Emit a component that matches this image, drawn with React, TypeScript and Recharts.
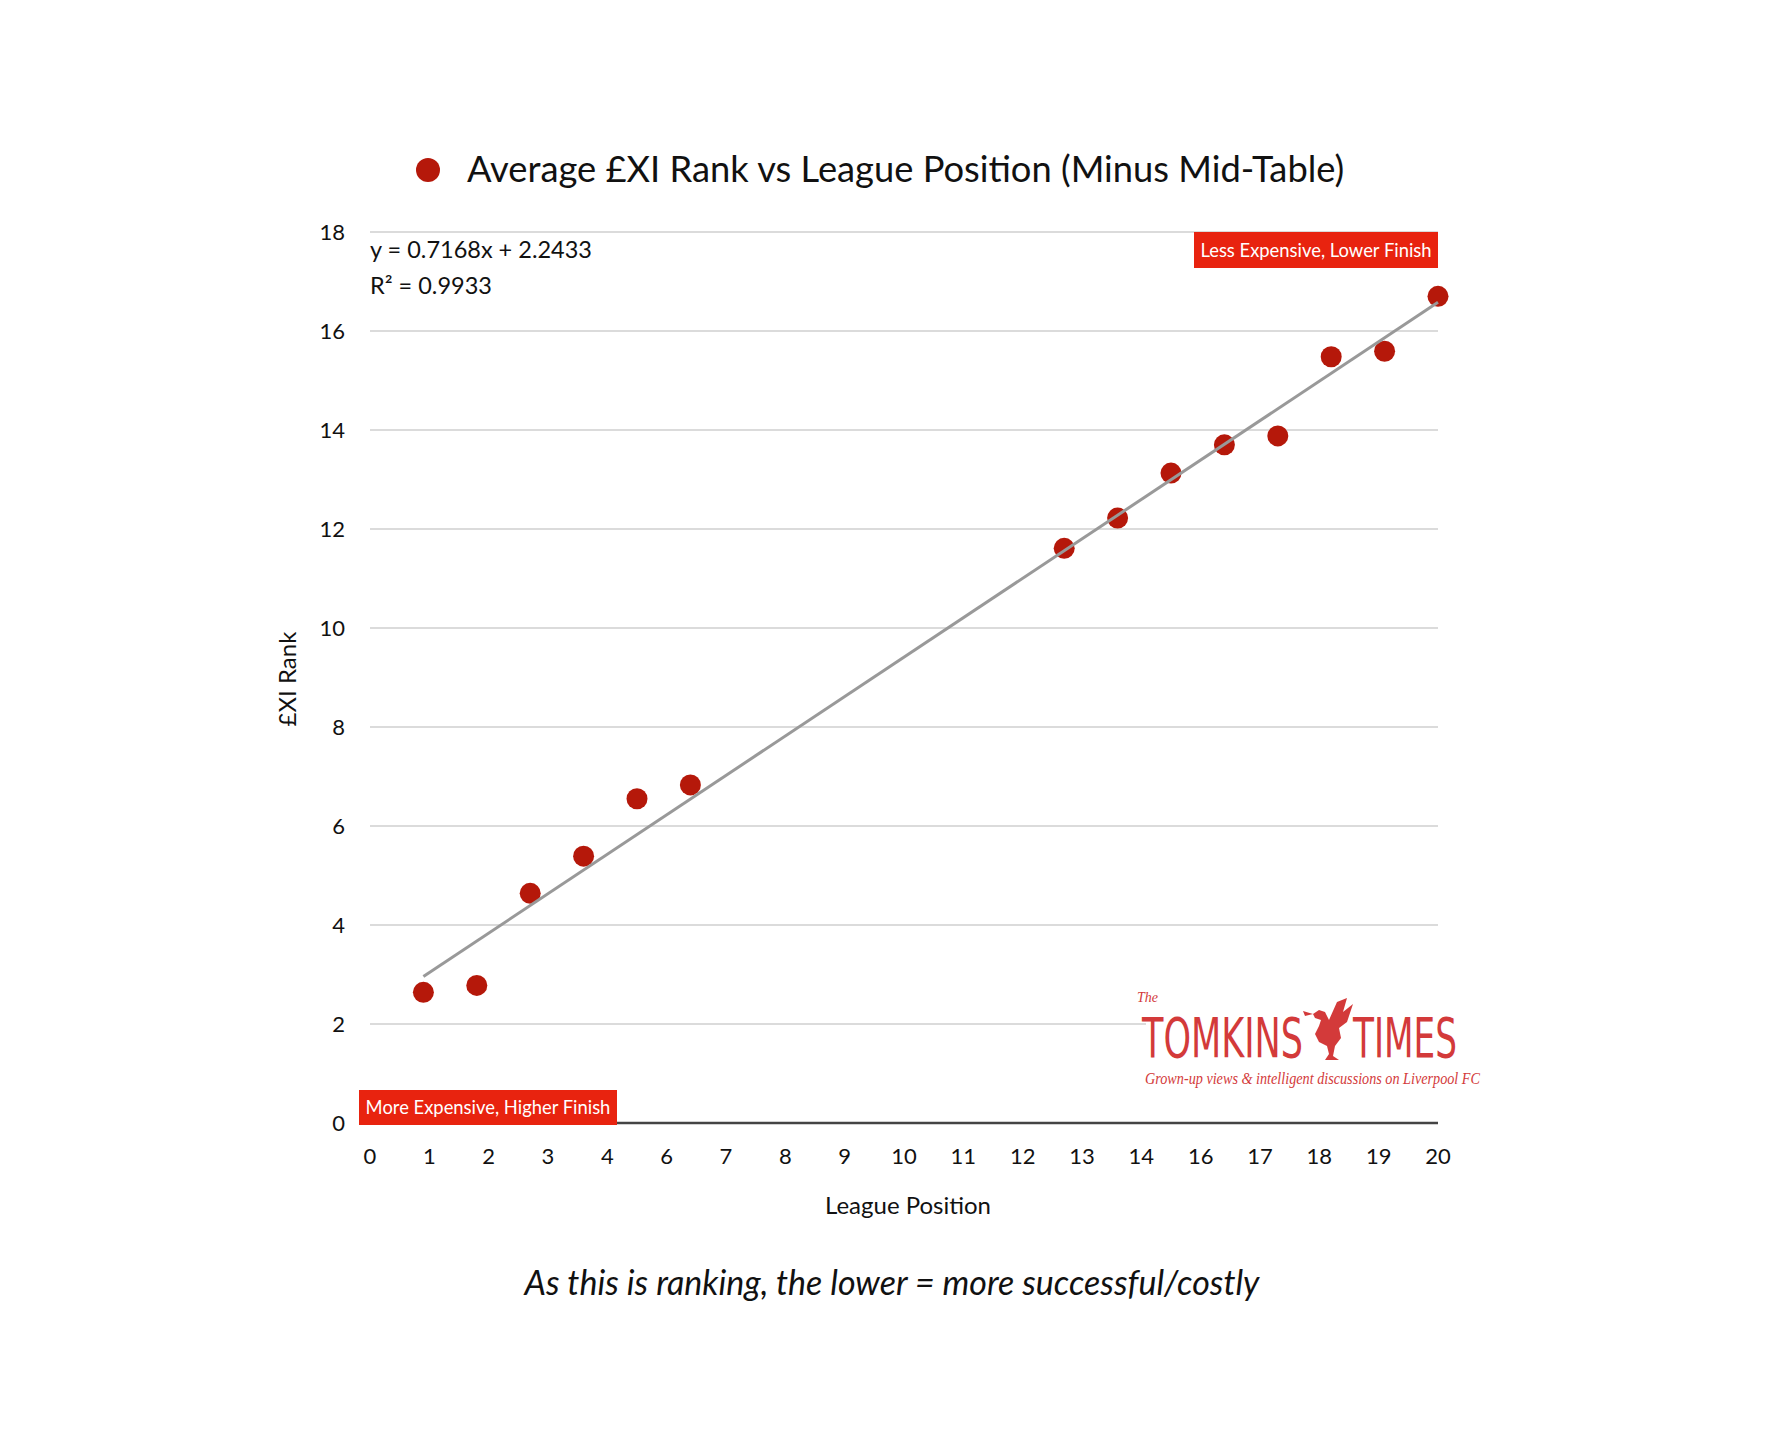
import React from 'react';
import { ScatterChart, Scatter, XAxis, YAxis, CartesianGrid } from 'recharts';

// League positions shown (mid-table 7-12 removed) and average £XI rank
const POSITIONS = [1, 2, 3, 4, 5, 6, 13, 14, 15, 16, 17, 18, 19, 20];
const RANKS = [2.64, 2.78, 4.64, 5.39, 6.55, 6.83, 11.61, 12.22, 13.13, 13.7, 13.88, 15.48, 15.59, 16.7];

// the x axis labels as printed on the original (5 and 15 are missing)
const X_TICK_LABELS = ['0', '1', '2', '3', '4', '6', '7', '8', '9', '10', '11', '12', '13', '14', '16', '17', '18', '19', '20'];
const Y_TICKS = [0, 2, 4, 6, 8, 10, 12, 14, 16, 18];

const TREND_SLOPE = 0.7168;
const TREND_INTERCEPT = 2.2433;
const TREND_X = [1, 20];

const DOT_RED = '#b5180a';
const LABEL_RED = '#e8230f';
const LOGO_RED = '#d33a3a';
const FONT = 'Lato, "Noto Sans", sans-serif';

const points = POSITIONS.map((x, i) => ({ x, y: RANKS[i] }));
const trend = TREND_X.map((x) => ({ x, y: TREND_SLOPE * x + TREND_INTERCEPT }));
const xTicks = X_TICK_LABELS.map((_, i) => (i * 20) / (X_TICK_LABELS.length - 1));

const Dot = (props: any) => <circle cx={props.cx} cy={props.cy} r={10.5} fill={DOT_RED} />;
const NoDot = () => <g />;

function Logo() {
  return (
    <svg width={480} height={116} style={{ position: 'absolute', left: 1130, top: 988 }}>
      <rect x={16} y={0} width={374} height={116} fill="#fff" />
      <text x={7} y={14} fontFamily='"Liberation Serif", serif' fontStyle="italic" fontSize={14} fill={LOGO_RED}>
        The
      </text>
      <text
        x={12}
        y={69}
        fontFamily='"Liberation Sans Narrow", "DejaVu Sans Condensed", sans-serif'
        fontSize={55}
        fill={LOGO_RED}
        textLength={161}
        lengthAdjust="spacingAndGlyphs"
      >
        TOMKINS
      </text>
      <g transform="translate(173,10)" fill={LOGO_RED}>
        <path d="M10,16 L16,12 L22,14 L26,22 L34,4 L44,0 L40,14 L50,6 L44,24 L36,30 L38,40 L32,48 L30,58 L36,62 L22,62 L26,56 L24,48 L16,44 L12,36 L16,28 L18,22 L12,20 Z" />
        <path d="M10,16 L0,13 L2,18 Z" />
      </g>
      <text
        x={223}
        y={69}
        fontFamily='"Liberation Sans Narrow", "DejaVu Sans Condensed", sans-serif'
        fontSize={55}
        fill={LOGO_RED}
        textLength={104}
        lengthAdjust="spacingAndGlyphs"
      >
        TIMES
      </text>
      <text
        x={15}
        y={96}
        fontFamily='"Liberation Serif", serif'
        fontStyle="italic"
        fontSize={17}
        fill={LOGO_RED}
        textLength={335}
        lengthAdjust="spacingAndGlyphs"
      >
        Grown-up views &amp; intelligent discussions on Liverpool FC
      </text>
    </svg>
  );
}

export default function App() {
  return (
    <div style={{ position: 'absolute', left: 0, top: 0, width: 1770, height: 1454, background: '#fff', fontFamily: FONT, color: '#111', overflow: 'hidden' }}>
      {/* title with legend dot */}
      <div style={{ position: 'absolute', left: 416, top: 158, width: 24, height: 24, borderRadius: 12, background: DOT_RED }} />
      <div style={{ position: 'absolute', left: 467, top: 146, fontSize: 36.3, lineHeight: '44px', whiteSpace: 'nowrap' }}>
        Average £XI Rank vs League Position (Minus Mid-Table)
      </div>

      <ScatterChart width={1770} height={1454} margin={{ top: 232, right: 332, bottom: 301, left: 310 }}>
        <CartesianGrid vertical={false} stroke="#cfcfcf" strokeWidth={1.5} />
        <XAxis
          type="number"
          dataKey="x"
          height={30}
          domain={[0, 20]}
          ticks={xTicks}
          interval={0}
          tickFormatter={(_v: number, i: number) => X_TICK_LABELS[i]}
          tickLine={false}
          tickSize={0}
          tickMargin={25}
          axisLine={{ stroke: '#444', strokeWidth: 2.5 }}
          tick={{ fontSize: 22, fill: '#111', fontFamily: FONT }}
        />
        <YAxis
          type="number"
          dataKey="y"
          width={60}
          domain={[0, 18]}
          ticks={Y_TICKS}
          interval={0}
          tickLine={false}
          tickSize={0}
          tickMargin={25}
          axisLine={false}
          tick={{ fontSize: 22, fill: '#111', fontFamily: FONT }}
        />
        <Scatter data={points} shape={Dot} isAnimationActive={false} />
        <Scatter data={trend} shape={NoDot} line={{ stroke: '#999', strokeWidth: 3 }} isAnimationActive={false} />
      </ScatterChart>

      {/* regression text */}
      <div style={{ position: 'absolute', left: 370, top: 234, fontSize: 23.5, lineHeight: '30px', whiteSpace: 'nowrap' }}>y = 0.7168x + 2.2433</div>
      <div style={{ position: 'absolute', left: 370, top: 270, fontSize: 23.5, lineHeight: '30px', whiteSpace: 'nowrap' }}>R² = 0.9933</div>

      {/* corner annotations */}
      <div style={{ position: 'absolute', left: 1194, top: 232, width: 244, height: 36, background: LABEL_RED, color: '#fff', fontSize: 18.4, lineHeight: '36px', textAlign: 'center', whiteSpace: 'nowrap' }}>
        Less Expensive, Lower Finish
      </div>
      <div style={{ position: 'absolute', left: 359, top: 1090, width: 258, height: 35, background: LABEL_RED, color: '#fff', fontSize: 18.4, lineHeight: '35px', textAlign: 'center', whiteSpace: 'nowrap' }}>
        More Expensive, Higher Finish
      </div>

      <Logo />

      {/* axis titles */}
      <div style={{ position: 'absolute', left: 287 - 100, top: 679 - 15, width: 200, height: 30, lineHeight: '30px', fontSize: 24, textAlign: 'center', transform: 'rotate(-90deg)' }}>
        £XI Rank
      </div>
      <div style={{ position: 'absolute', left: 908 - 150, top: 1205 - 15, width: 300, height: 30, lineHeight: '30px', fontSize: 24, textAlign: 'center' }}>
        League Position
      </div>

      {/* caption */}
      <div style={{ position: 'absolute', left: 892 - 500, top: 1282 - 21, width: 1000, height: 42, lineHeight: '42px', fontSize: 34, fontStyle: 'italic', textAlign: 'center' }}>
        As this is ranking, the lower = more successful/costly
      </div>
    </div>
  );
}
